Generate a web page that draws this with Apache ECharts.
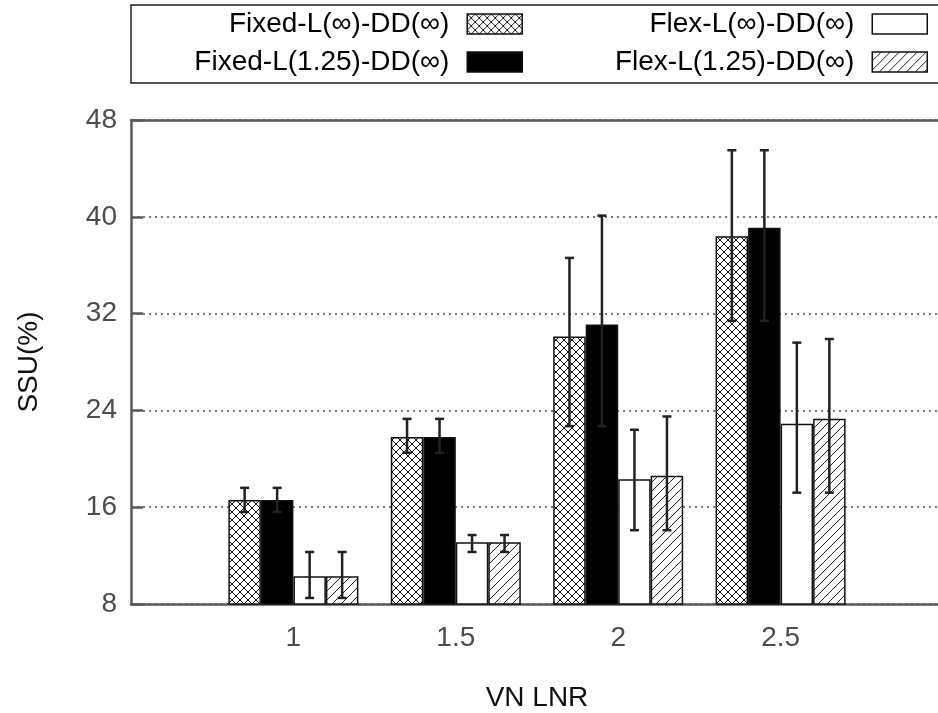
<!DOCTYPE html>
<html>
<head>
<meta charset="utf-8">
<script src="https://cdn.jsdelivr.net/npm/echarts@6/dist/echarts.min.js"></script>
<style>
  html, body { margin: 0; padding: 0; background: #fff; }
  #chart { width: 938px; height: 713px; }
</style>
</head>
<body>
<div id="chart"></div>
<script>
var xValues = [1, 1.5, 2, 2.5]
var seriesNames = ['Fixed-L(∞)-DD(∞)', 'Fixed-L(1.25)-DD(∞)', 'Flex-L(∞)-DD(∞)', 'Flex-L(1.25)-DD(∞)']

var fixedInf = [16.6, 21.8, 30.1, 38.4]
var fixedInfLow = [15.6, 20.5, 22.7, 31.4]
var fixedInfHigh = [17.6, 23.3, 36.6, 45.5]

var fixed125 = [16.6, 21.8, 31.1, 39.1]
var fixed125Low = [15.6, 20.5, 22.7, 31.4]
var fixed125High = [17.6, 23.3, 40.1, 45.5]

var flexInf = [10.3, 13.1, 18.3, 22.9]
var flexInfLow = [8.5, 12.3, 14.1, 17.2]
var flexInfHigh = [12.3, 13.7, 22.4, 29.6]

var flex125 = [10.3, 13.1, 18.6, 23.3]
var flex125Low = [8.5, 12.3, 14.1, 17.2]
var flex125High = [12.3, 13.7, 23.5, 29.9]

var FONT = 'Liberation Sans'
var FS = 28
var BAR_W = 32.5

// gnuplot-like fill patterns, drawn pixel by pixel so they stay crisp
function crossHatch() {
    var n = 8
    var c = document.createElement('canvas')
    c.width = n; c.height = n
    var ctx = c.getContext('2d')
    ctx.fillStyle = '#fff'
    ctx.fillRect(0, 0, n, n)
    ctx.fillStyle = '#111'
    for (var i = 0; i < n; i++) {
        ctx.fillRect(i, i, 1, 1)
        ctx.fillRect(n - 1 - i, i, 1, 1)
    }
    return { image: c, repeat: 'repeat' }
}
function slashHatch() {
    var n = 9
    var c = document.createElement('canvas')
    c.width = n; c.height = n
    var ctx = c.getContext('2d')
    ctx.fillStyle = '#fff'
    ctx.fillRect(0, 0, n, n)
    ctx.fillStyle = '#222'
    for (var i = 0; i < n; i++) {
        ctx.fillRect(n - 1 - i, i, 1, 1)
    }
    return { image: c, repeat: 'repeat' }
}

var fills = [crossHatch(), '#000', '#fff', slashHatch()]
var means = [fixedInf, fixed125, flexInf, flex125]
var lows = [fixedInfLow, fixed125Low, flexInfLow, flex125Low]
var highs = [fixedInfHigh, fixed125High, flexInfHigh, flex125High]

function errRender(k) {
    return function (params, api) {
        var x = api.value(0)
        var p1 = api.coord([x, api.value(2)])
        var p2 = api.coord([x, api.value(1)])
        var cx = p1[0] + (k - 1.5) * BAR_W
        var cap = 4.5
        var st = { stroke: '#222', lineWidth: 2.5 }
        return {
            type: 'group',
            children: [
                { type: 'line', shape: { x1: cx, y1: p1[1], x2: cx, y2: p2[1] }, style: st },
                { type: 'line', shape: { x1: cx - cap, y1: p1[1], x2: cx + cap, y2: p1[1] }, style: st },
                { type: 'line', shape: { x1: cx - cap, y1: p2[1], x2: cx + cap, y2: p2[1] }, style: st }
            ]
        }
    }
}

var series = []
for (var k = 0; k < 4; k++) {
    series.push({
        name: seriesNames[k],
        type: 'bar',
        xAxisIndex: 0,
        barWidth: BAR_W,
        barGap: '0%',
        itemStyle: { color: fills[k], borderColor: '#111', borderWidth: 1.5 },
        data: xValues.map(function (x, i) { return [x, means[k][i]] })
    })
}
for (var k = 0; k < 4; k++) {
    series.push({
        type: 'custom',
        xAxisIndex: 0,
        z: 5,
        renderItem: errRender(k),
        encode: { x: 0, y: [1, 2] },
        data: xValues.map(function (x, i) { return [x, lows[k][i], highs[k][i]] })
    })
}

function legendAt(name, right, top) {
    return {
        data: [name],
        right: right,
        top: top,
        padding: 0,
        align: 'right',
        icon: 'rect',
        itemWidth: 55,
        itemHeight: 20,
        selectedMode: false,
        itemStyle: { borderColor: '#111', borderWidth: 1.5 },
        textStyle: { fontFamily: FONT, fontSize: FS, color: '#000', padding: [0, 13, 0, 0] }
    }
}

var option = {
    animation: false,
    backgroundColor: '#fff',
    textStyle: { fontFamily: FONT },
    grid: { left: 131, right: -5, top: 120, bottom: 109, outerBoundsMode: 'none', containLabel: false },
    legend: [
        legendAt(seriesNames[0], 415, 10),
        legendAt(seriesNames[1], 415, 48),
        legendAt(seriesNames[2], 10, 10),
        legendAt(seriesNames[3], 10, 48)
    ],
    graphic: [{
        type: 'rect',
        shape: { x: 131, y: 5, width: 900, height: 78 },
        style: { fill: 'none', stroke: '#222', lineWidth: 1.5 },
        silent: true
    }],
    xAxis: [{
        type: 'value',
        min: 0.5,
        max: 3,
        interval: 0.5,
        name: 'VN LNR',
        nameLocation: 'middle',
        nameGap: 80,
        nameTextStyle: { fontFamily: FONT, fontSize: FS, color: '#111' },
        axisLine: { show: true, lineStyle: { color: '#5a5a5a', width: 2.5 } },
        axisTick: { show: false },
        splitLine: { show: false },
        axisLabel: {
            margin: 20,
            fontFamily: FONT,
            fontSize: FS,
            color: '#4d4d4d',
            formatter: function (v) { return xValues.indexOf(v) >= 0 ? String(v) : '' }
        }
    }, {
        type: 'value',
        position: 'top',
        min: 0.5,
        max: 3,
        axisLine: { show: true, lineStyle: { color: '#5a5a5a', width: 2.5 } },
        axisTick: { show: false },
        axisLabel: { show: false },
        splitLine: { show: false }
    }],
    yAxis: {
        type: 'value',
        min: 8,
        max: 48,
        interval: 8,
        name: 'SSU(%)',
        nameLocation: 'middle',
        nameRotate: 90,
        nameGap: 88,
        nameTextStyle: { fontFamily: FONT, fontSize: FS, color: '#111' },
        axisLine: { show: true, lineStyle: { color: '#5a5a5a', width: 2.5 } },
        axisTick: { show: true, inside: true, length: 12, lineStyle: { color: '#5a5a5a', width: 2.5 } },
        axisLabel: { margin: 14, fontFamily: FONT, fontSize: FS, color: '#4d4d4d' },
        splitLine: { show: true, lineStyle: { color: '#7a7a7a', width: 2, type: [2, 4] } }
    },
    series: series
}

var chart = echarts.init(document.getElementById('chart'), null, { renderer: 'canvas' })
chart.setOption(option)
</script>
</body>
</html>
